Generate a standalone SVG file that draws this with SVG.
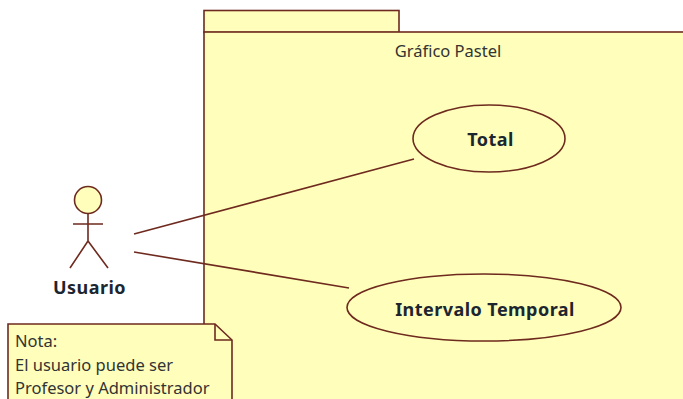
<svg xmlns="http://www.w3.org/2000/svg" width="683" height="399" viewBox="0 0 683 399">
<style>
.s{fill:#ffffbb;stroke:#6e2a1e;stroke-width:1.6}
.l{fill:none;stroke:#6e2a1e;stroke-width:1.6}
.b{font-family:"Noto Sans",sans-serif;font-weight:bold;font-size:18px;letter-spacing:.45px;fill:#1c2630;text-anchor:middle}
.n{font-family:"Noto Sans",sans-serif;font-size:16.500px;fill:#333}
</style>
<rect width="683" height="399" fill="#fff"/>
<g id="package">
<rect class="s" x="204" y="10.5" width="195" height="22"/>
<rect class="s" x="204" y="32" width="485" height="375"/>
<text x="448" y="57" text-anchor="middle" class="n">Gráfico Pastel</text>
</g>
<g id="connectors">
<line class="l" x1="134" y1="234" x2="414" y2="159"/>
<line class="l" x1="134" y1="252" x2="349" y2="288"/>
</g>
<g id="total">
<ellipse class="s" cx="489" cy="138.5" rx="76" ry="33.5"/>
<text class="b" x="490.500" y="146">Total</text>
</g>
<g id="intervalo">
<ellipse class="s" cx="484" cy="307.500" rx="137" ry="33.5"/>
<text class="b" x="485" y="316">Intervalo Temporal</text>
</g>
<g id="usuario">
<circle class="s" cx="88" cy="200" r="13.500"/>
<path class="l" d="M88 213.500V241M73 224H103M88 241L70 268M88 241L108 268"/>
<text class="b" x="89.500" y="294">Usuario</text>
</g>
<g id="nota">
<path class="s" d="M8 324H215L232 340V407H8Z"/>
<path class="l" d="M215 324V340H232"/>
<text class="n" x="15" y="347">Nota:</text>
<text class="n" x="15" y="371">El usuario puede ser</text>
<text class="n" x="15" y="394">Profesor y Administrador</text>
</g>
</svg>
